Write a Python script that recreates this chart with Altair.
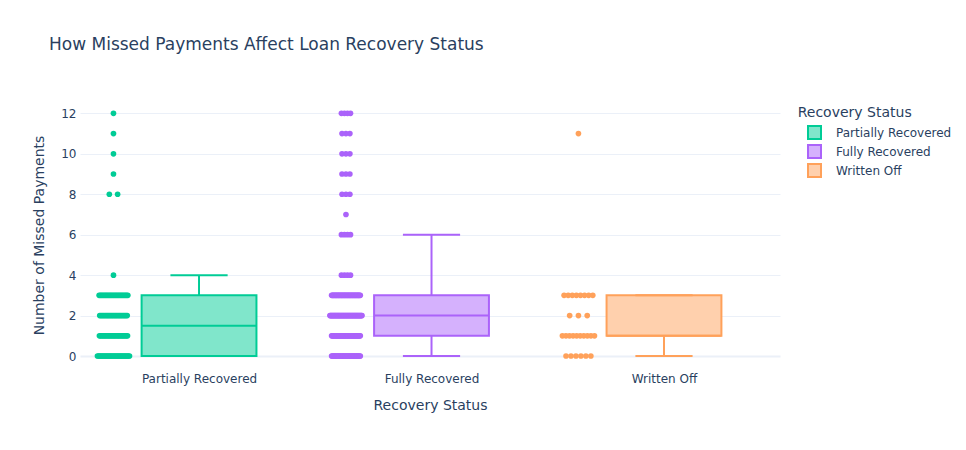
import json
import altair as alt
import pandas as pd

# ---- data ----
categories = ["Partially Recovered", "Fully Recovered", "Written Off"]
line_colors = ["#00cc96", "#ab63fa", "#FFA15A"]
fill_colors = ["#80e6cb", "#d5b1fd", "#ffd0ad"]   # line colours at 50% over white

missed_values = [0, 1, 2, 3, 4, 6, 7, 8, 9, 10, 11, 12]
partial_counts = [30, 23, 22, 24, 1, 0, 0, 2, 1, 1, 1, 1]
full_counts = [40, 40, 50, 40, 4, 4, 1, 3, 3, 3, 3, 4]
written_counts = [6, 10, 3, 8, 0, 0, 0, 0, 0, 0, 1, 0]

box_q1 = [0, 1, 1]
box_median = [1.5, 2, 1]
box_q3 = [3, 3, 3]
whisker_low = [0, 0, 0]
whisker_high = [4, 6, 3]

TEXT = "#2a3f5f"
FONT = "DejaVu Sans"

# ---- tables ----
rows = []
for ci, (cat, counts) in enumerate(zip(categories, [partial_counts, full_counts, written_counts])):
    for v, c in zip(missed_values, counts):
        rows += [{"status": cat, "idx": ci, "value": v}] * c
pts_df = pd.DataFrame(rows)

box_df = pd.DataFrame({
    "status": categories, "idx": list(range(len(categories))),
    "q1": box_q1, "med": box_median, "q3": box_q3,
    "lo": whisker_low, "hi": whisker_high,
})

xscale = alt.Scale(domain=[-0.512, 2.499], nice=False, zero=False)
yscale = alt.Scale(domain=[-0.69, 12.66], nice=False, zero=False)

xaxis = alt.Axis(
    title="Recovery Status", values=[0, 1, 2],
    labelExpr=json.dumps(categories) + "[datum.value]",
    grid=False, domain=False, ticks=False, labelPadding=3, labelFlush=False,
    labelFontSize=12, labelColor=TEXT, labelFont=FONT,
    titleFont=FONT, titleFontSize=14, titleColor=TEXT, titleFontWeight="normal",
    titleY=35, titleBaseline="middle",
)
yaxis = alt.Axis(
    title="Number of Missed Payments", values=[0, 2, 4, 6, 8, 10, 12],
    grid=True, gridColor="#ebf0f8",
    gridWidth={"condition": {"test": "datum.value === 0", "value": 2}, "value": 1},
    domain=False, ticks=False, labelPadding=4,
    labelFontSize=12, labelColor=TEXT, labelFont=FONT,
    titleFont=FONT, titleFontSize=14, titleColor=TEXT, titleFontWeight="normal",
    titleX=-41, titleY=135, titleAngle=-90, titleAlign="center", titleBaseline="middle",
)

# the point/whisker colour scale lists the same colours in reverse order so that
# its (hidden) legend is kept apart from the box legend
color_full = alt.Scale(domain=categories[::-1], range=line_colors[::-1])
stroke_full = alt.Scale(domain=categories, range=line_colors)
color_fill = alt.Scale(domain=categories, range=fill_colors)

leg = alt.Legend(
    title=None, orient="none", legendX=727, legendY=25, padding=0,
    symbolType="square", symbolSize=169, symbolStrokeWidth=2,
    labelFontSize=12, labelColor=TEXT, labelFont=FONT, labelOffset=14, rowPadding=-2,
)

points = (
    alt.Chart(pts_df)
    .transform_joinaggregate(n="count()", groupby=["status", "value"])
    .transform_joinaggregate(maxn="max(n)", groupby=["status"])
    .transform_window(r="row_number()", groupby=["status", "value"])
    .transform_calculate(
        xj="datum.idx - 0.368 + (datum.n > 1 ? ((datum.r - 1) / (datum.n - 1) - 0.5) : 0)"
           " * 0.138 * sqrt(datum.n / datum.maxn)"
    )
    .mark_circle(size=32, opacity=1)
    .encode(
        x=alt.X("xj:Q", scale=xscale, axis=xaxis),
        y=alt.Y("value:Q", scale=yscale, axis=yaxis),
        color=alt.Color("status:N", scale=color_full, legend=None),
    )
)

boxes = alt.Chart(box_df).transform_calculate(
    xl="datum.idx - 0.247", xr="datum.idx + 0.247",
    cl="datum.idx - 0.123", cr="datum.idx + 0.123",
)

rect = boxes.mark_rect(strokeWidth=2).encode(
    x=alt.X("xl:Q", scale=xscale, axis=xaxis), x2="xr:Q",
    y=alt.Y("q1:Q", scale=yscale, axis=yaxis), y2="q3:Q",
    fill=alt.Fill("status:N", scale=color_fill, legend=leg),
    stroke=alt.Stroke("status:N", scale=stroke_full, legend=leg),
)

def rule_layer(**enc):
    return boxes.mark_rule(strokeWidth=2).encode(
        color=alt.Color("status:N", scale=color_full, legend=None), **enc
    )

median = rule_layer(
    x=alt.X("xl:Q", scale=xscale, axis=xaxis), x2="xr:Q",
    y=alt.Y("med:Q", scale=yscale, axis=yaxis),
)
whisk_up = rule_layer(
    x=alt.X("idx:Q", scale=xscale, axis=xaxis),
    y=alt.Y("q3:Q", scale=yscale, axis=yaxis), y2="hi:Q",
)
whisk_lo = rule_layer(
    x=alt.X("idx:Q", scale=xscale, axis=xaxis),
    y=alt.Y("lo:Q", scale=yscale, axis=yaxis), y2="q1:Q",
)
cap_hi = rule_layer(
    x=alt.X("cl:Q", scale=xscale, axis=xaxis), x2="cr:Q",
    y=alt.Y("hi:Q", scale=yscale, axis=yaxis),
)
cap_lo = rule_layer(
    x=alt.X("cl:Q", scale=xscale, axis=xaxis), x2="cr:Q",
    y=alt.Y("lo:Q", scale=yscale, axis=yaxis),
)

legend_title = alt.Chart(pd.DataFrame({"t": ["Recovery Status"]})).mark_text(
    align="left", baseline="middle", fontSize=14, font=FONT, color=TEXT
).encode(text="t:N", x=alt.value(717.7), y=alt.value(13))

chart = (
    alt.layer(points, rect, median, whisk_up, whisk_lo, cap_hi, cap_lo, legend_title)
    .resolve_legend(fill="shared", stroke="shared")
    .properties(
        width=700, height=270,
        autosize=alt.AutoSizeParams(type="none"),
        padding={"left": 80, "top": 100, "right": 186, "bottom": 80},
        title=alt.TitleParams(
            "How Missed Payments Affect Loan Recovery Status",
            anchor="start", frame="group", dx=-31, offset=46,
            fontSize=17, font=FONT, color=TEXT, fontWeight="normal",
        ),
    )
    .configure_view(stroke=None)
)

chart.save("out.html", embed_options={"renderer": "svg", "actions": False})
